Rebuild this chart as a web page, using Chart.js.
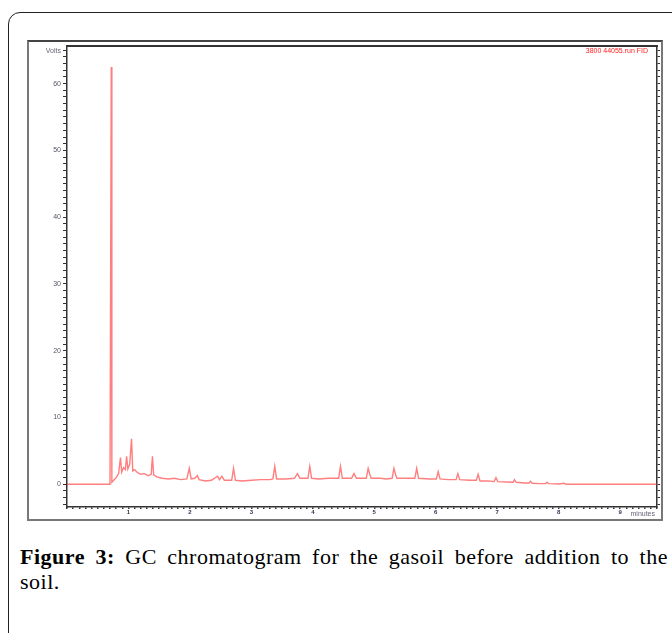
<!DOCTYPE html>
<html>
<head>
<meta charset="utf-8">
<script src="https://cdn.jsdelivr.net/npm/chart.js@4"></script>
<style>
  body { margin: 0; background: #fff; width: 672px; height: 633px; overflow: hidden; position: relative; }
  #outer { position: absolute; left: 8px; top: 12px; width: 720px; height: 700px; border: 1px solid #222; border-radius: 12px; }
  #frame { position: absolute; left: 27px; top: 40px; width: 632px; height: 477px; border: 2px solid #777; border-top-color: #444; }
  #chartBox { position: absolute; left: 28px; top: 40px; width: 632px; height: 478px; }
  .cap { position: absolute; left: 20px; width: 648px; font-family: "Liberation Serif", serif; font-size: 22px; letter-spacing: 0.5px; color: #000; }
  #cap1 { top: 544px; text-align: justify; text-align-last: justify; white-space: nowrap; }
  #cap2 { top: 569px; }
</style>
</head>
<body>
<div id="outer"></div>
<div id="frame"></div>
<div id="chartBox"><canvas id="myChart" width="632" height="478"></canvas></div>
<div class="cap" id="cap1"><b>Figure 3:</b> GC chromatogram for the gasoil before addition to the</div>
<div class="cap" id="cap2">soil.</div>

<script>
// retention time (minutes) and detector signal (Volts)
const gcTimes = [0.00, 0.70, 0.71, 0.72, 0.73, 0.76, 0.80, 0.84, 0.87, 0.89, 0.92, 0.95, 0.97, 0.99, 1.02, 1.05,
  1.07, 1.10, 1.14, 1.20, 1.26, 1.32, 1.37, 1.39, 1.41, 1.46, 1.55, 1.65, 1.75, 1.85, 1.95, 1.99, 2.02, 2.08,
  2.12, 2.15, 2.25, 2.35, 2.45, 2.48, 2.52, 2.56, 2.68, 2.71, 2.74, 2.85, 3.00, 3.15, 3.30, 3.35, 3.38, 3.41,
  3.55, 3.70, 3.75, 3.79, 3.92, 3.95, 3.98, 4.10, 4.25, 4.42, 4.45, 4.48, 4.63, 4.67, 4.71, 4.87, 4.90, 4.93,
  4.95, 5.10, 5.20, 5.29, 5.32, 5.35, 5.37, 5.55, 5.66, 5.69, 5.72, 5.90, 6.01, 6.04, 6.07, 6.20, 6.33, 6.36,
  6.39, 6.55, 6.66, 6.69, 6.72, 6.85, 6.95, 6.98, 7.01, 7.15, 7.26, 7.28, 7.31, 7.45, 7.52, 7.54, 7.57, 7.70,
  7.79, 7.81, 7.84, 8.00, 8.09, 8.12, 8.50, 9.60];
const gcVolts = [0, 0, 0, 62.5, 0.3, 0.6, 1.0, 1.6, 4.0, 1.8, 2.5, 2.2, 4.2, 2.3, 3.0, 6.8,
  2.0, 2.2, 1.8, 1.5, 1.6, 1.3, 1.5, 4.2, 1.4, 1.1, 0.9, 0.8, 0.9, 0.7, 0.8, 2.4, 0.8, 0.9,
  1.3, 0.7, 0.5, 0.6, 1.2, 0.7, 1.2, 0.6, 0.6, 2.4, 0.6, 0.5, 0.6, 0.7, 0.7, 0.8, 2.7, 0.8,
  0.8, 0.9, 1.6, 0.9, 0.9, 2.7, 0.9, 0.8, 0.9, 0.9, 2.7, 0.9, 0.9, 1.6, 0.9, 0.9, 2.4, 1.4,
  0.9, 0.9, 0.8, 0.9, 2.4, 1.3, 0.9, 0.9, 0.9, 2.4, 0.9, 0.8, 0.8, 1.9, 0.8, 0.7, 0.7, 1.6,
  0.7, 0.6, 0.6, 1.5, 0.5, 0.5, 0.4, 1.0, 0.4, 0.35, 0.3, 0.7, 0.3, 0.2, 0.2, 0.45, 0.15, 0.1,
  0.1, 0.3, 0.1, 0.05, 0.15, 0, 0, 0];

const runName = '3800 44055.run FID';
const xTickLabels = [1, 2, 3, 4, 5, 6, 7, 8, 9];
const yTickLabels = [0, 10, 20, 30, 40, 50, 60];

const xMin = 0, xMax = 9.6, yMin = -3.4, yMax = 65.6;

// minor tick positions (every 0.1 min / every 1 V)
function minorTicks(lo, hi, step) {
  let out = [];
  let start = Math.ceil(lo / step - 1e-9);
  for (let i = start; i * step <= hi + 1e-9; i++) out.push({ value: +(i * step).toFixed(2) });
  return out;
}

const points = gcTimes.map((t, i) => ({ x: t, y: gcVolts[i] }));

// draws 'Volts', 'minutes' and the run name like the instrument print-out
const printLabels = {
  id: 'printLabels',
  afterDraw(chart) {
    const c = chart.ctx, a = chart.chartArea;
    c.save();
    c.font = '7px "Liberation Sans", Arial';
    c.textBaseline = 'middle';
    c.fillStyle = '#667';
    c.textAlign = 'right';
    c.fillText('Volts', a.left - 6, a.top + 5);
    c.fillText('minutes', a.right - 2, a.bottom + 7);
    c.fillStyle = '#ff2020';
    c.fillText(chart.data.datasets[0].label, a.right - 9, a.top + 5);
    c.restore();
  }
};

const ctx = document.getElementById('myChart');
const chart1 = new Chart(ctx, {
  type: 'line',
  data: {
    datasets: [{
      label: runName,
      data: points,
      borderColor: 'rgba(255, 40, 40, 0.6)',
      borderWidth: 1.4,
      pointRadius: 0,
      tension: 0,
      fill: false
    }]
  },
  options: {
    responsive: false,
    animation: false,
    devicePixelRatio: 1,
    layout: { padding: 0 },
    plugins: { legend: { display: false }, tooltip: { enabled: false } },
    scales: {
      x: {
        type: 'linear', position: 'bottom', min: xMin, max: xMax,
        afterBuildTicks: s => { s.ticks = minorTicks(xMin, xMax, 0.1); },
        afterFit: s => { s.height = 11; },
        border: { display: true, color: '#333', width: 1.5 },
        grid: { drawOnChartArea: false, drawTicks: true, tickLength: 2, color: '#333', lineWidth: 1.5 },
        ticks: {
          autoSkip: false, maxRotation: 0, padding: 0,
          font: { size: 6, family: 'Liberation Sans', weight: 'bold' }, color: '#335',
          callback: v => xTickLabels.includes(Math.round(v * 10) / 10) ? String(Math.round(v)) : ''
        }
      },
      xTop: {
        type: 'linear', position: 'top', min: xMin, max: xMax,
        afterFit: s => { s.height = 0; },
        border: { display: true, color: '#333', width: 2 },
        grid: { display: false },
        ticks: { display: false }
      },
      y: {
        type: 'linear', position: 'left', min: yMin, max: yMax,
        afterBuildTicks: s => { s.ticks = minorTicks(yMin, yMax, 1); },
        afterFit: s => { s.width = 39; },
        border: { display: true, color: '#333', width: 1.5 },
        grid: { drawOnChartArea: false, drawTicks: true, tickLength: 4, color: '#333', lineWidth: 1 },
        ticks: {
          autoSkip: false, padding: 2,
          font: { size: 7, family: 'Liberation Sans' }, color: '#556',
          callback: v => yTickLabels.includes(v) ? String(v) : ''
        }
      },
      yRight: {
        type: 'linear', position: 'right', min: yMin, max: yMax,
        afterBuildTicks: s => { s.ticks = minorTicks(yMin, yMax, 1); },
        afterFit: s => { s.width = 3; },
        border: { display: true, color: '#333', width: 1.5 },
        grid: { drawOnChartArea: false, drawTicks: true, tickLength: 3, color: '#333', lineWidth: 1 },
        ticks: { display: false }
      }
    }
  },
  plugins: [printLabels]
});
</script>
</body>
</html>
